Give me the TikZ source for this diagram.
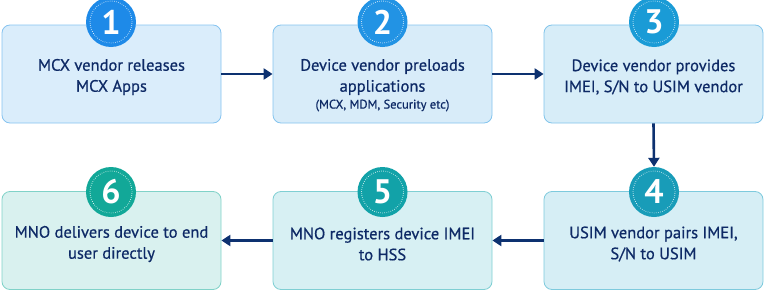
\documentclass[tikz,border=0pt]{standalone}
\usepackage{fontspec}
\setmainfont{PT Sans}
\newfontfamily\medfont{PT Sans}[FakeBold=0.6]
\usetikzlibrary{arrows.meta}
\definecolor{txt}{HTML}{0E2A66}
\definecolor{arr}{HTML}{0D3170}
\definecolor{fA}{HTML}{DAEDFB}\definecolor{bA}{HTML}{86C3F0}
\definecolor{fB}{HTML}{D8ECF9}\definecolor{bB}{HTML}{84C4EE}
\definecolor{fC}{HTML}{D7EDF8}\definecolor{bC}{HTML}{80C4EA}
\definecolor{fD}{HTML}{D6EEF5}\definecolor{bD}{HTML}{7ECADD}
\definecolor{fE}{HTML}{D7F0F3}\definecolor{bE}{HTML}{7FCFD3}
\definecolor{fF}{HTML}{D9F1EF}\definecolor{bF}{HTML}{80D2C8}
\definecolor{cA}{HTML}{1E8AE8}
\definecolor{cB}{HTML}{2293E4}
\definecolor{cC}{HTML}{1A9BD6}
\definecolor{cD}{HTML}{189CB8}
\definecolor{cE}{HTML}{12A2A8}
\definecolor{cF}{HTML}{12A898}
\tikzset{
  stepbox/.style={draw=#1, line width=0.8pt, rounded corners=8pt, minimum width=219pt, minimum height=98pt, inner sep=0pt},
  numdisc/.style={circle, fill=#1, minimum size=50pt, inner sep=0pt, text=white, font=\fontsize{34}{34}\selectfont\bfseries},
  ring/.style={draw=white, line width=0.8pt, dash pattern=on 0.5pt off 1.6pt},
  lbl/.style={text=txt, align=center, font=\medfont\fontsize{16.5}{21}\selectfont},
  flow/.style={draw=arr, line width=2.6pt, -{Triangle[length=9pt,width=11pt]}}
}
\begin{document}
\begin{tikzpicture}[x=1pt,y=-1pt]
\useasboundingbox (0,0) rectangle (766,292);
% boxes
\node[stepbox=bA, fill=fA] (b1) at (111.5,74) {};
\node[stepbox=bB, fill=fB] (b2) at (382.5,74) {};
\node[stepbox=bC, fill=fC] (b3) at (653.5,74) {};
\node[stepbox=bD, fill=fD] (b4) at (653.5,240.5) {};
\node[stepbox=bE, fill=fE] (b5) at (382.5,240.5) {};
\node[stepbox=bF, fill=fF] (b6) at (111.5,240.5) {};
% circles
\foreach \n/\c/\x/\y in {1/cA/111/22, 2/cB/382.5/22, 3/cC/654/22, 4/cD/654/192, 5/cE/382.5/192, 6/cF/111/192}{
  \node[numdisc=\c] (c\n) at (\x,\y) {\raisebox{-0.5pt}{\n}};
  \draw[ring] (c\n.center) circle (21pt);
}
% labels
\node[lbl] (t1) at (111.5,77) {MCX vendor releases\\MCX Apps};
\node[lbl] (t2) at (382.5,77) {Device vendor preloads\\applications};
\node[text=txt, font=\medfont\fontsize{12.5}{14}\selectfont] (t2b) at (382.5,105.5) {(MCX, MDM, Security etc)};
\node[lbl] (t3) at (653.5,77) {Device vendor provides\\IMEI, S/N to USIM vendor};
\node[lbl] (t4) at (653.5,244) {USIM vendor pairs IMEI,\\S/N to USIM};
\node[lbl] (t5) at (382.5,244) {MNO registers device IMEI\\to HSS};
\node[lbl] (t6) at (111.5,244) {MNO delivers device to end\\user directly};
% connectors
\draw[flow] (b1.east) -- (b2.west);
\draw[flow] (b2.east) -- (b3.west);
\draw[flow] (b3.south) -- (c4.north);
\draw[flow] (b4.west) -- (b5.east);
\draw[flow] (b5.west) -- (b6.east);
\end{tikzpicture}
\end{document}
